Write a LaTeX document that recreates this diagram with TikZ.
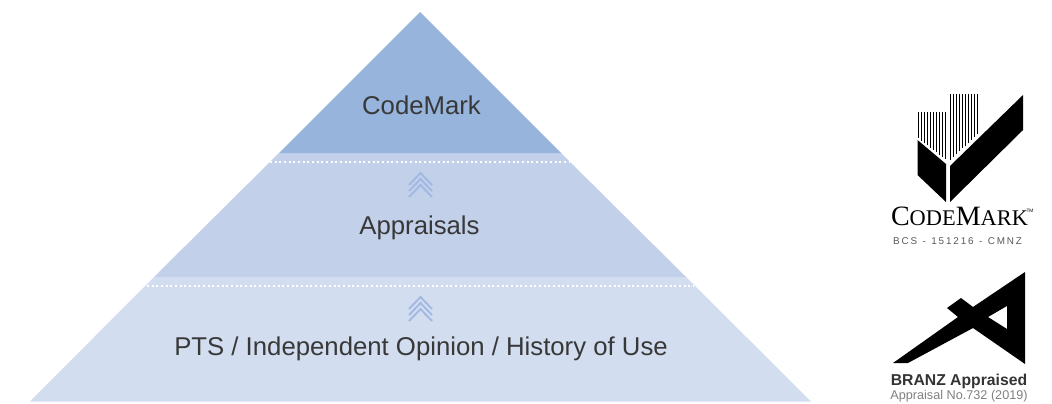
\documentclass[tikz,border=0pt]{standalone}
\usepackage{fontspec}
\setmainfont{Liberation Sans}
\newfontfamily\logoserif{Liberation Serif}
\tikzset{
  tierlabel/.style={anchor=base, inner sep=0pt, text=black!78, font=\fontsize{19.3}{22}\selectfont},
  tierdots/.style={white, line width=1.1pt, dash pattern=on 1.5pt off 2pt},
  chevron/.style={color=chevblue, line width=1.4pt}
}
\definecolor{topblue}{HTML}{97B4DC}
\definecolor{midblue}{HTML}{C2D0EA}
\definecolor{lowblue}{HTML}{D3DDF0}
\definecolor{chevblue}{HTML}{A0B8E2}
\begin{document}
\begin{tikzpicture}
      [x=0.75pt, y=-0.75pt]
      \useasboundingbox (0, 0) rectangle (1052, 403);

      % pyramid tiers
      \fill[lowblue] (154, 277) -- (686, 277) -- (811, 401.5) -- (30, 401.5) -- cycle;
      \fill[midblue] (279, 153) -- (561, 153) -- (686, 277) -- (154, 277) -- cycle;
      \fill[topblue] (420, 12) -- (561, 153) -- (279, 153) -- cycle;

      \draw[tierdots] (270, 162) -- (570, 162);
      \draw[tierdots] (147, 286) -- (694, 286);

      % chevrons
      \foreach \ytip in {173, 179, 185} {
        \draw[chevron] (409, \ytip+12) -- (420.5, \ytip) -- (432, \ytip+12);
        \draw[chevron] (409, \ytip+136) -- (420.5, \ytip+124) -- (432, \ytip+136);
      }

      \node[tierlabel] (codemark) at (421.5, 114) {CodeMark};
      \node[tierlabel] (appraisals) at (419.5, 234) {Appraisals};
      \node[tierlabel] (history) at (421, 355) {PTS / Independent Opinion / History of Use};

      % CodeMark logo
      \foreach \xbar in {918.5, 921.5, ..., 946} {
        \draw[line width=0.95pt] (\xbar, 112) -- (\xbar, {138 + (\xbar-918)*0.78});
      }
      \foreach \xbar in {950.5, 953.5, ..., 979} {
        \draw[line width=0.95pt] (\xbar, 94) -- (\xbar, {160 - (\xbar-950)*0.93});
      }
      \fill[black] (917.5, 140) -- (946, 164) -- (946, 202) -- (917.5, 175) -- cycle;
      \fill[black] (950, 166) -- (1023, 95) -- (1023, 130) -- (950, 202) -- cycle;
      \node[anchor=base, inner sep=0pt, font=\logoserif\fontsize{21}{23}\selectfont] (cmtext) at (959.5, 225)
        {C{\fontsize{16.8}{20}\selectfont ODE}M{\fontsize{16.8}{20}\selectfont ARK}};
      \node[inner sep=0pt, font=\fontsize{3.6}{4}\selectfont] (cmtm) at (1030, 211) {TM};
      \node[inner sep=0pt, text=black!65, font=\fontsize{7.4}{9}\selectfont] (cmcode) at (957.5, 241)
        {B\kern1.4pt C\kern1.4pt S\ \ -\ \ 1\kern1.4pt 5\kern1.4pt 1\kern1.4pt 2\kern1.4pt 1\kern1.4pt 6\ \ -\ \ C\kern1.4pt M\kern1.4pt N\kern1.4pt Z};

      % BRANZ logo
      \fill[black, even odd rule]
        (893, 363) -- (958, 317) -- (947, 308) -- (961, 298) -- (973, 307) -- (1025, 272)
        -- (1025, 364) -- (973, 328) -- (908, 363) -- cycle
        (988, 317) -- (1007, 306) -- (1007, 329) -- cycle;
      \node[inner sep=0pt, text=black!80, font=\bfseries\fontsize{11.8}{13}\selectfont] (brtext) at (959, 381) {BRANZ Appraised};
      \node[inner sep=0pt, text=black!50, font=\fontsize{9.5}{11}\selectfont] (brcode) at (959, 396.5) {Appraisal No.732 (2019)};
    \end{tikzpicture}
\end{document}
